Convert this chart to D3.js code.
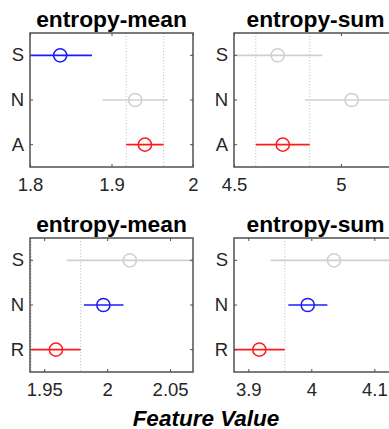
<!DOCTYPE html>
<html>
<head>
<meta charset="utf-8">
<script src="https://cdn.jsdelivr.net/npm/d3@7"></script>
<style>
  html, body { margin: 0; padding: 0; background: #fff; overflow: hidden; }
  svg { display: block; font-family: "Liberation Sans", Arial, sans-serif; }
</style>
</head>
<body>
<svg id="chart" width="389" height="429"></svg>
<script>
// ---- data: group means with confidence intervals, one list per panel ----
const titles = ["entropy-mean", "entropy-sum", "entropy-mean", "entropy-sum"];

// categories listed top to bottom
const catsTop = ["S", "N", "A"];
const catsBottom = ["S", "N", "R"];

// colour key per category row
const colorsTop = ["blue", "gray", "red"];
const colorsTopRight = ["gray", "gray", "red"];
const colorsBottom = ["gray", "blue", "red"];

// means
const meanTL = [1.837, 1.929, 1.941];
const meanTR = [4.704, 5.050, 4.728];
const meanBL = [2.018, 1.997, 1.9593];
const meanBR = [4.036, 3.9943, 3.9175];

// lower / upper interval bounds
const loTL = [1.798, 1.889, 1.918];
const hiTL = [1.876, 1.969, 1.964];
const loTR = [4.495, 4.832, 4.602];
const hiTR = [4.913, 5.268, 4.854];
const loBL = [1.968, 1.9815, 1.9396];
const hiBL = [2.068, 2.013, 1.9790];
const loBR = [3.9355, 3.9636, 3.877];
const hiBR = [4.137, 4.0255, 3.958];

// x-axis limits and ticks
const domTL = [1.8, 2.0];
const domTR = [4.5, 5.262];
const domBL = [1.9387, 2.0682];
const domBR = [3.8773, 4.136];
const ticksTL = [1.8, 1.9, 2.0];
const ticksTR = [4.5, 5.0];
const ticksBL = [1.95, 2.0, 2.05];
const ticksBR = [3.9, 4.0, 4.1];

const xLabel = "Feature Value";

// ---- styling ----
const palette = { blue: "#1a1aff", red: "#ff1a1a", gray: "#cfcfcf" };
const axisColor = "#505050";

const panels = [
  { title: titles[0], cats: catsTop, colors: colorsTop, mean: meanTL, lo: loTL, hi: hiTL, dom: domTL, ticks: ticksTL, x: 30, y: 33 },
  { title: titles[1], cats: catsTop, colors: colorsTopRight, mean: meanTR, lo: loTR, hi: hiTR, dom: domTR, ticks: ticksTR, x: 234, y: 33 },
  { title: titles[2], cats: catsBottom, colors: colorsBottom, mean: meanBL, lo: loBL, hi: hiBL, dom: domBL, ticks: ticksBL, x: 30, y: 238 },
  { title: titles[3], cats: catsBottom, colors: colorsBottom, mean: meanBR, lo: loBR, hi: hiBR, dom: domBR, ticks: ticksBR, x: 234, y: 238 }
];

const W = 163, H = 134;
const svg = d3.select("#chart");
const defs = svg.append("defs");
defs.append("clipPath").attr("id", "plotClip")
  .append("rect").attr("x", 0).attr("y", 0).attr("width", W).attr("height", H);

const fmt = v => d3.format("~g")(v);

panels.forEach((p, pi) => {
  const g = svg.append("g").attr("transform", `translate(${p.x},${p.y})`);
  const x = d3.scaleLinear().domain(p.dom).range([0, W]);
  const y = d3.scaleBand().domain(p.cats).range([0, H]).padding(0);
  const yc = c => y(c) + y.bandwidth() / 2;

  // reference lines at the red group's interval bounds
  const refIdx = p.colors.indexOf("red");
  const plot = g.append("g").attr("clip-path", "url(#plotClip)");
  plot.selectAll("line.ref")
    .data([p.lo[refIdx], p.hi[refIdx]])
    .join("line")
    .attr("class", "ref")
    .attr("x1", d => x(d)).attr("x2", d => x(d))
    .attr("y1", 0).attr("y2", H)
    .attr("stroke", "#c4c4c4")
    .attr("stroke-width", 1)
    .attr("stroke-dasharray", "1.2,1.8");

  const rows = p.cats.map((c, i) => ({ c, m: p.mean[i], lo: p.lo[i], hi: p.hi[i], col: palette[p.colors[i]] }));

  // interval bars
  plot.selectAll("line.ci")
    .data(rows)
    .join("line")
    .attr("class", "ci")
    .attr("x1", d => x(d.lo)).attr("x2", d => x(d.hi))
    .attr("y1", d => yc(d.c)).attr("y2", d => yc(d.c))
    .attr("stroke", d => d.col)
    .attr("stroke-width", 1.6);

  // mean markers
  plot.selectAll("circle.m")
    .data(rows)
    .join("circle")
    .attr("class", "m")
    .attr("cx", d => x(d.m)).attr("cy", d => yc(d.c))
    .attr("r", 6.6)
    .attr("fill", "none")
    .attr("stroke", d => d.col)
    .attr("stroke-width", 1.5);

  // axes with inward ticks on all four sides
  const xb = g.append("g").attr("transform", `translate(0,${H})`)
    .call(d3.axisBottom(x).tickValues(p.ticks).tickFormat(fmt).tickSizeInner(-3).tickSizeOuter(0).tickPadding(11));
  const xt = g.append("g")
    .call(d3.axisTop(x).tickValues(p.ticks).tickFormat("").tickSizeInner(-3).tickSizeOuter(0));
  const yl = g.append("g")
    .call(d3.axisLeft(y).tickSizeInner(-3).tickSizeOuter(0).tickPadding(6));
  const yr = g.append("g").attr("transform", `translate(${W},0)`)
    .call(d3.axisRight(y).tickFormat("").tickSizeInner(-3).tickSizeOuter(0));

  [xb, xt, yl, yr].forEach(a => {
    a.select(".domain").remove();
    a.selectAll(".tick line").attr("stroke", axisColor).attr("stroke-width", 1);
    a.selectAll(".tick text")
      .attr("fill", "#262626")
      .style("font-family", "'Liberation Sans', Arial, sans-serif")
      .style("font-size", "18.5px");
  });

  // axes box
  g.append("rect")
    .attr("x", 0).attr("y", 0).attr("width", W).attr("height", H)
    .attr("fill", "none")
    .attr("stroke", axisColor)
    .attr("stroke-width", 1.5);

  // title
  g.append("text")
    .attr("x", W / 2).attr("y", -6.5)
    .attr("text-anchor", "middle")
    .attr("fill", "#000")
    .style("font-size", "22.8px")
    .style("font-weight", "bold")
    .text(p.title);
});

// shared x-axis label
svg.append("text")
  .attr("x", 206).attr("y", 425.5)
  .attr("text-anchor", "middle")
  .attr("fill", "#000")
  .style("font-size", "22.5px")
  .style("font-weight", "bold")
  .style("font-style", "italic")
  .text(xLabel);
</script>
</body>
</html>
